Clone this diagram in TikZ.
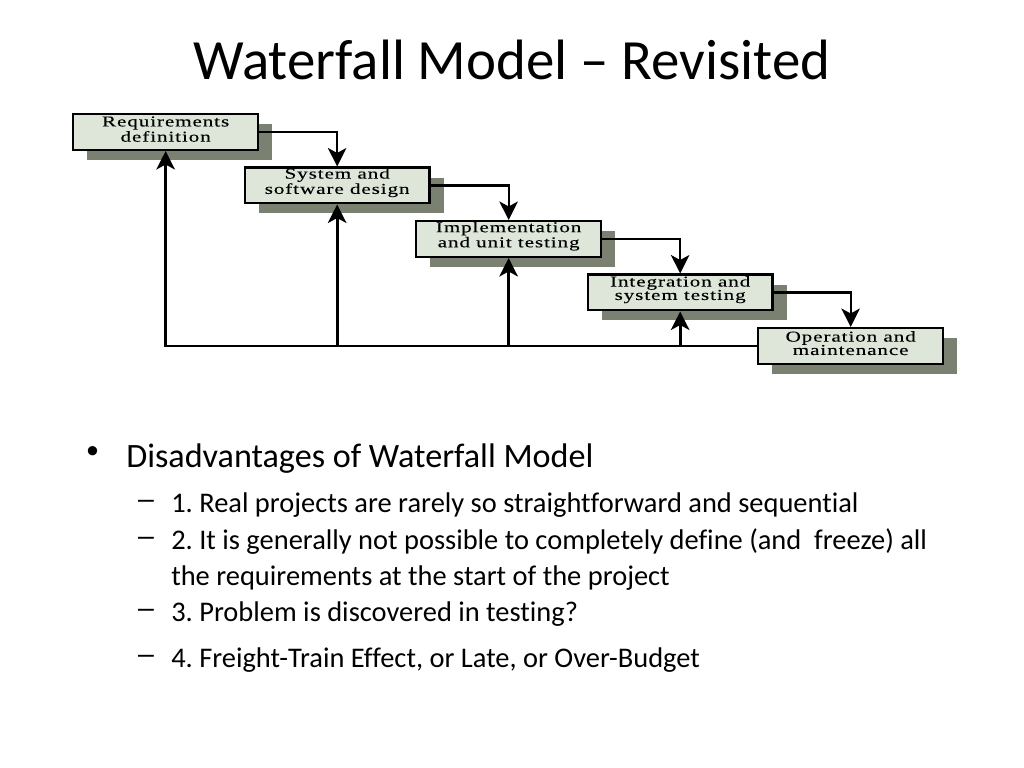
\documentclass[tikz,border=0pt]{standalone}
\usepackage{fontspec}
\setmainfont{Carlito}[Ligatures=NoCommon]
\newfontfamily\boxfont[FakeStretch=1.4,LetterSpace=6,FakeBold=0.2]{Liberation Serif}
\newfontfamily\dashfont{Liberation Sans}
\usetikzlibrary{arrows.meta,shadows}
\definecolor{boxfill}{HTML}{DEE6DA}
\definecolor{shadowc}{HTML}{7A8171}
\tikzset{
  phase/.style={draw=black, line width=1.7pt, fill=boxfill,
    minimum width=130pt, minimum height=25pt, inner sep=0pt,
    anchor=north west, align=center,
    drop shadow={shadow xshift=9.8pt, shadow yshift=-7pt, fill=shadowc, opacity=1}},
  lab/.style={inner sep=0pt, align=center, font=\boxfont\fontsize{10.6}{9.4}\selectfont},
  conn/.style={line width=1.5pt, -{Stealth[length=13pt,width=13pt,inset=3.5pt]}},
  fb/.style={line width=1.9pt, -{Stealth[length=13pt,width=13pt,inset=3.5pt]}},
  txt/.style={anchor=base west, inner sep=0pt},
  big/.style={txt, font=\fontsize{24}{29}\selectfont},
  sub/.style={txt, font=\fontsize{20}{24}\selectfont},
  dsh/.style={anchor=center, inner sep=0pt, font=\dashfont\fontsize{20}{24}\selectfont}
}
\frenchspacing
\begin{document}
\begin{tikzpicture}[x=0.703125pt,y=-0.703125pt]
\useasboundingbox (0,0) rectangle (1024,768);
\node[anchor=base, inner sep=0pt, font=\fontsize{40}{48}\selectfont] (title) at (512,80) {Waterfall Model – Revisited};

\node[phase] (p1) at (72,113) {};
\node[phase] (p2) at (243.5,166.5) {};
\node[phase] (p3) at (415,220) {};
\node[phase] (p4) at (586.5,273.5) {};
\node[phase] (p5) at (757,327) {};
\node[lab] (l1) at ([yshift=2pt]p1.center) {Requirements\\definition};
\node[lab] (l2) at ([yshift=2pt]p2.center) {System and\\software design};
\node[lab] (l3) at ([yshift=2pt]p3.center) {Implementation\\and unit testing};
\node[lab] (l4) at ([yshift=2pt]p4.center) {Integration and\\system testing};
\node[lab] (l5) at ([yshift=2pt]p5.center) {Operation and\\maintenance};

\draw[conn] (p1.east) -| (p2.north);
\draw[conn] (p2.east) -| (p3.north);
\draw[conn] (p3.east) -| (p4.north);
\draw[conn] (p4.east) -| (p5.north);

\draw[fb] (p5.west) -| (p1.south);
\draw[fb] (p5.west -| p2.south) -- (p2.south);
\draw[fb] (p5.west -| p3.south) -- (p3.south);
\draw[fb] (p5.west -| p4.south) -- (p4.south);

\node[anchor=center, inner sep=0pt, font=\dashfont\fontsize{24}{29}\selectfont] (bul) at (92.5,455) {•};
\node[big] (h) at (126,467) {Disadvantages of Waterfall Model};
\node[dsh] (d1) at (146,504) {–};
\node[sub] (t1) at (171,512) {1. Real projects are rarely so straightforward and sequential};
\node[dsh] (d2) at (146,541) {–};
\node[sub] (t2) at (171,549) {2. It is generally not possible to completely define (and\ \ freeze) all};
\node[sub] (t2b) at (171,585) {the requirements at the start of the project};
\node[dsh] (d3) at (146,613) {–};
\node[sub] (t3) at (171,621) {3. Problem is discovered in testing?};
\node[dsh] (d4) at (146,659) {–};
\node[sub] (t4) at (171,667) {4. Freight-Train Effect, or Late, or Over-Budget};
\end{tikzpicture}
\end{document}
